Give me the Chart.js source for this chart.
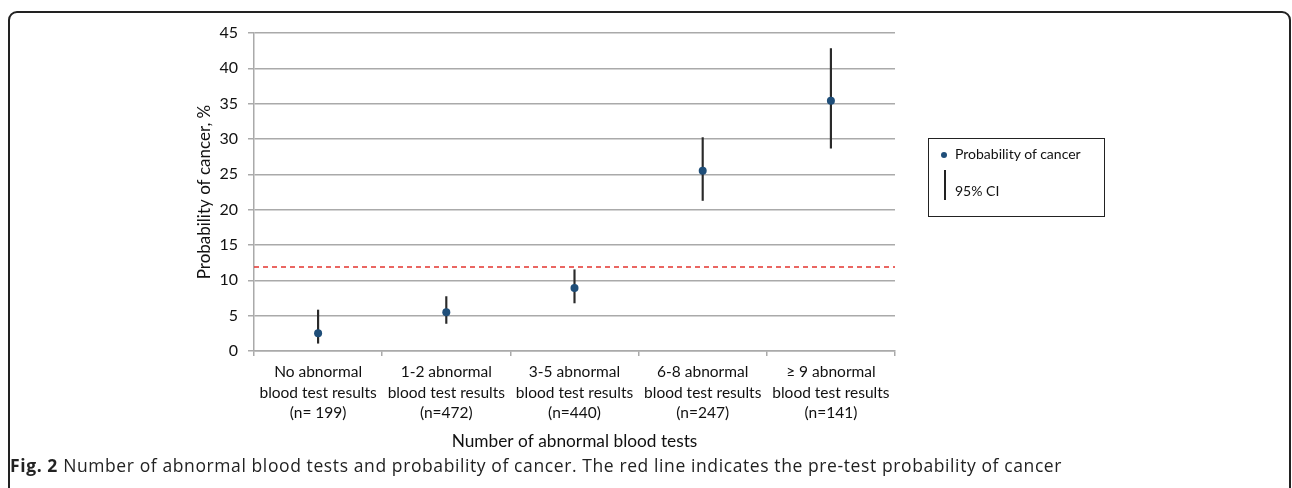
<!DOCTYPE html>
<html>

<head>
	<title>Abnormal blood tests</title>
	<meta charset="UTF-8">
	<script src="https://cdn.jsdelivr.net/npm/chart.js@4.4.1/dist/chart.umd.min.js"></script>
	<style>
		body { margin: 0; background: #fff; }
		#wrap { position: relative; width: 1292px; height: 488px; overflow: hidden; font-family: Lato, sans-serif; }
		#frame { position: absolute; left: 8px; top: 11px; width: 1283px; height: 520px; box-sizing: border-box;
			border: 2px solid #222; border-radius: 9px; }
		#legend { position: absolute; left: 928px; top: 138px; width: 177px; height: 79px; box-sizing: border-box;
			border: 1px solid #222; font-size: 14px; color: #111; }
		#legend .dot { position: absolute; left: 12px; top: 13px; width: 6px; height: 6px; border-radius: 50%; background: #1f4e79; }
		#legend .bar { position: absolute; left: 15px; top: 31px; width: 1.5px; height: 30px; background: #222; }
		#legend .t1 { position: absolute; left: 26px; top: 6px; }
		#legend .t2 { position: absolute; left: 26px; top: 43px; }
		#caption { position: absolute; left: 10px; top: 453px; font-family: "Open Sans", sans-serif; font-size: 17.5px;
			letter-spacing: 0.6px; color: #222; white-space: nowrap; }
		#caption b { font-weight: 700; }
		canvas { position: absolute; left: 0; top: 0; }
	</style>
</head>

<body>
	<div id="wrap">
		<div id="frame"></div>
		<canvas id="ciChart" width="1292" height="488"></canvas>
		<div id="legend">
			<div class="dot"></div><span class="t1">Probability of cancer</span>
			<div class="bar"></div><span class="t2">95% CI</span>
		</div>
		<div id="caption"><b>Fig. 2</b> Number of abnormal blood tests and probability of cancer. The red line indicates the pre-test probability of cancer</div>
	</div>

	<script>
		var categories = [
			["No abnormal", "blood test results", "(n= 199)"],
			["1-2 abnormal", "blood test results", "(n=472)"],
			["3-5 abnormal", "blood test results", "(n=440)"],
			["6-8 abnormal", "blood test results", "(n=247)"],
			["\u2265 9 abnormal", "blood test results", "(n=141)"]
		];
		var probability = [2.5, 5.5, 8.9, 25.5, 35.4];
		var ciLow = [1.1, 3.9, 6.8, 21.3, 28.7];
		var ciHigh = [5.8, 7.7, 11.5, 30.2, 42.8];
		var pretest = 11.9;
		var yTicks = [0, 5, 10, 15, 20, 25, 30, 35, 40, 45];

		var ciRanges = [];
		for (i = 0; i < ciLow.length; i++) {
			ciRanges.push([ciLow[i], ciHigh[i]]);
		}

		var pretestLine = {
			id: "pretestLine",
			afterDatasetsDraw: function (chart) {
				var ctx = chart.ctx;
				var area = chart.chartArea;
				var y = chart.scales.y.getPixelForValue(pretest);
				ctx.save();
				ctx.strokeStyle = "#e3342f";
				ctx.lineWidth = 1.5;
				ctx.setLineDash([5, 4]);
				ctx.beginPath();
				ctx.moveTo(area.left, y);
				ctx.lineTo(area.right, y);
				ctx.stroke();
				ctx.restore();
			}
		};

		Chart.defaults.font.family = "Lato, sans-serif";
		Chart.defaults.color = "#111";

		new Chart(document.getElementById("ciChart"), {
			type: "bar",
			data: {
				labels: categories,
				datasets: [
					{
						type: "line",
						label: "Probability of cancer",
						data: probability,
						showLine: false,
						pointRadius: 4,
						pointHoverRadius: 4,
						pointBackgroundColor: "#1f4e79",
						pointBorderColor: "#1f4e79",
						pointBorderWidth: 0,
						order: 0
					},
					{
						label: "95% CI",
						data: ciRanges,
						barThickness: 1.5,
						backgroundColor: "#2a2a2a",
						borderWidth: 0,
						order: 1
					}
				]
			},
			plugins: [pretestLine],
			options: {
				responsive: false,
				animation: false,
				layout: { padding: { left: 188, top: 33, right: 397, bottom: 36 } },
				plugins: { legend: { display: false }, tooltip: { enabled: false } },
				scales: {
					x: {
						offset: true,
						afterFit: function (scale) { scale.height = 101; },
						grid: { offset: true, drawOnChartArea: false, color: "#aaaaaa", lineWidth: 1.5, tickLength: 5 },
						border: { color: "#aaaaaa", width: 1.5 },
						ticks: { font: { size: 15.5, lineHeight: 1.32 }, padding: 6, maxRotation: 0, autoSkip: false },
						title: { display: true, text: "Number of abnormal blood tests", font: { size: 17.3 }, padding: { top: 6, bottom: 0 } }
					},
					y: {
						min: 0,
						max: 45,
						afterFit: function (scale) { scale.width = 66; },
						afterBuildTicks: function (scale) { scale.ticks = yTicks.map(function (v) { return { value: v }; }); },
						grid: { color: "#aaaaaa", lineWidth: 1.5, tickLength: 6 },
						border: { color: "#aaaaaa", width: 1.5 },
						ticks: { font: { size: 16 }, padding: 10 },
						title: { display: true, text: "Probability of cancer, %", font: { size: 17 }, padding: { top: 6, bottom: 0 } }
					}
				}
			}
		});
	</script>

</body>

</html>
